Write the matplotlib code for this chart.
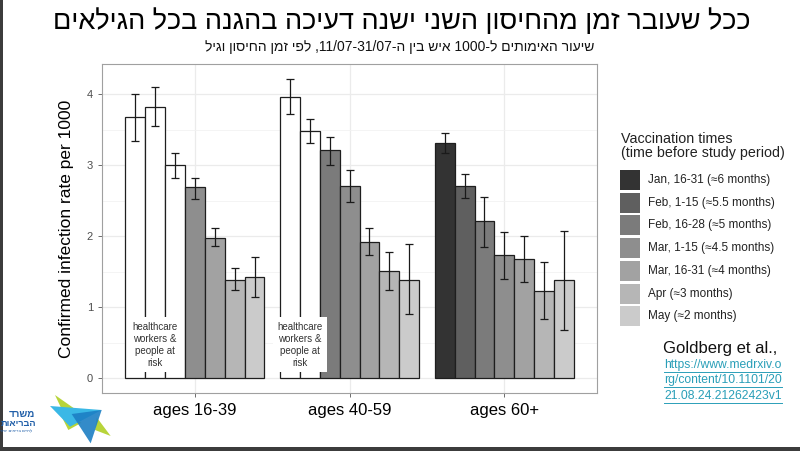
import re
import numpy as np
import matplotlib
matplotlib.use('Agg')
import matplotlib.pyplot as plt
from matplotlib.patches import Rectangle, Polygon

plt.rcParams['font.family'] = ['Liberation Sans', 'DejaVu Sans']

# data
groups = ['ages 16-39', 'ages 40-59', 'ages 60+']
periods = ['Jan, 16-31 (≈6 months)', 'Feb, 1-15 (≈5.5 months)', 'Feb, 16-28 (≈5 months)',
           'Mar, 1-15 (≈4.5 months)', 'Mar, 16-31 (≈4 months)', 'Apr (≈3 months)',
           'May (≈2 months)']
period_colors = ['#333333', '#5f5f5f', '#7b7b7b', '#8e8e8e', '#a2a2a2', '#b6b6b6', '#cbcbcb']

rate_16_39 = [3.68, 3.83, 3.00, 2.69, 1.98, 1.39, 1.43]
lo_16_39 = [3.35, 3.56, 2.82, 2.53, 1.86, 1.24, 1.14]
hi_16_39 = [4.01, 4.10, 3.18, 2.82, 2.11, 1.55, 1.71]

rate_40_59 = [3.97, 3.48, 3.21, 2.71, 1.92, 1.51, 1.39]
lo_40_59 = [3.72, 3.31, 3.01, 2.49, 1.73, 1.24, 0.90]
hi_40_59 = [4.22, 3.66, 3.40, 2.94, 2.12, 1.78, 1.89]

rate_60 = [3.32, 2.71, 2.21, 1.73, 1.68, 1.23, 1.38]
lo_60 = [3.18, 2.54, 1.85, 1.40, 1.36, 0.83, 0.68]
hi_60 = [3.46, 2.88, 2.56, 2.06, 2.00, 1.64, 2.07]

# how many of the first bars in each group are healthcare workers / at risk (white)
n_hcw = [3, 2, 0]

rates = [rate_16_39, rate_40_59, rate_60]
lows = [lo_16_39, lo_40_59, lo_60]
highs = [hi_16_39, hi_40_59, hi_60]

title = 'ככל שעובר זמן מהחיסון השני ישנה דעיכה בהגנה בכל הגילאים'
subtitle = 'שיעור האימותים ל-1000 איש בין ה-11/07-31/07, לפי זמן החיסון וגיל'
hcw_label = 'healthcare\nworkers &\npeople at\nrisk'


def rtl(s):
    # crude visual ordering for hebrew: flip, then put latin/number runs back
    r = s[::-1]
    return re.sub(r'[0-9A-Za-z][0-9A-Za-z/\-.]*[0-9A-Za-z]|[0-9]', lambda m: m.group(0)[::-1], r)


fig = plt.figure(figsize=(8, 4.51), dpi=100)
ax = fig.add_axes([0.1275, 0.1286, 0.619, 0.7295])

w = 0.9 / 7
for g in range(3):
    xs = g + 1 + (np.arange(7) - 3) * w
    cols = ['white' if i < n_hcw[g] else period_colors[i] for i in range(7)]
    r = np.array(rates[g])
    ax.bar(xs, r, width=w, color=cols, edgecolor='#1e1e1e', linewidth=0.9, zorder=2)
    ax.errorbar(xs, r, yerr=[r - np.array(lows[g]), np.array(highs[g]) - r], fmt='none',
                ecolor='#1a1a1a', elinewidth=0.9, capsize=3, capthick=0.9, zorder=3)
    if n_hcw[g] > 0:
        xc = xs[:n_hcw[g]].mean()
        ax.text(xc, 0.47, hcw_label, ha='center', va='center', fontsize=7, color='#333333',
                linespacing=1.25, zorder=4,
                bbox=dict(boxstyle='square,pad=0.45', fc='white', ec='none'))

ax.set_xlim(0.4, 3.6)
ax.set_ylim(-0.211, 4.43)
ax.set_xticks([1, 2, 3])
ax.set_xticklabels(groups, fontsize=12)
ax.set_yticks([0, 1, 2, 3, 4])
ax.set_yticks(np.arange(0.5, 4.5, 1.0), minor=True)
ax.tick_params(axis='y', labelsize=8, labelcolor='#4d4d4d', length=3, width=0.6, color='#555555')
ax.tick_params(axis='x', length=3, width=0.6, color='#555555', pad=4)
ax.tick_params(axis='y', which='minor', length=0)
ax.grid(which='major', color='#ebebeb', linewidth=0.9, zorder=0)
ax.grid(which='minor', axis='y', color='#f2f2f2', linewidth=0.6, zorder=0)
ax.set_axisbelow(True)
for s in ax.spines.values():
    s.set_color('#a0a0a0')
    s.set_linewidth(0.8)
ax.set_ylabel('Confirmed infection rate per 1000', fontsize=12.5, labelpad=9)

# overlay in pixel coordinates for titles, legend, source and logo
ov = fig.add_axes([0, 0, 1, 1])
ov.set_xlim(0, 800)
ov.set_ylim(451, 0)
ov.axis('off')

ov.text(402, 22, rtl(title), ha='center', va='center', fontsize=19.5, color='black')
ov.text(400, 47, rtl(subtitle), ha='center', va='center', fontsize=10, color='#111111')

ov.text(621, 146, 'Vaccination times\n(time before study period)', ha='left', va='center',
        fontsize=10.3, color='#222222', linespacing=1.0)
for i, lab in enumerate(periods):
    y0 = 170 + i * 22.7
    ov.add_patch(Rectangle((620, y0), 20, 20, fc=period_colors[i], ec='none'))
    ov.text(648, y0 + 10, lab, ha='left', va='center', fontsize=8.5, color='#222222')

ov.text(663, 348, 'Goldberg et al.,', ha='left', va='center', fontsize=12, color='#111111')
link_lines = ['https://www.medrxiv.o', 'rg/content/10.1101/20', '21.08.24.21262423v1']
link_texts = []
for i, ln in enumerate(link_lines):
    link_texts.append(ov.text(664, 365 + i * 15.5, ln, ha='left', va='center',
                              fontsize=8.7, color='#2a9fb8'))

# border strips of the screenshot
ov.add_patch(Rectangle((0, 0), 3, 451, fc='#3c3c3c', ec='none'))
ov.add_patch(Rectangle((0, 447), 800, 4, fc='#3c3c3c', ec='none'))

# ministry of health logo (rough)
def zp(pts):
    return [(px / 3.0, 380 + py / 3.0) for px, py in pts]

ov.add_patch(Polygon(zp([(165, 45), (232, 92), (190, 98)]), fc='#b8d43a', ec='none'))
ov.add_patch(Polygon(zp([(185, 110), (245, 128), (205, 150)]), fc='#b8d43a', ec='none'))
ov.add_patch(Polygon(zp([(290, 112), (332, 168), (285, 150)]), fc='#b8d43a', ec='none'))
ov.add_patch(Polygon(zp([(150, 78), (305, 90), (210, 140)]), fc='#3ab8e6', ec='none'))
ov.add_patch(Polygon(zp([(215, 102), (305, 90), (272, 190)]), fc='#1d7fc4', ec='none', alpha=0.9))
ov.text(35, 414, rtl('משרד'), ha='right', va='center', fontsize=7, fontweight='bold',
        color='#1f5ea8')
ov.text(36, 423, rtl('הבריאות'), ha='right', va='center', fontsize=6.6, fontweight='bold',
        color='#1f5ea8')
ov.text(32, 432, rtl('לחיים בריאים יותר'), ha='right', va='center', fontsize=3,
        color='#1f5ea8')

# underline the link
fig.canvas.draw()
for t in link_texts:
    bb = t.get_window_extent()
    yy = 451 - bb.y0 + 0.5
    ov.plot([bb.x0, bb.x1], [yy, yy], color='#2a9fb8', lw=0.7)

fig.savefig('out.png', dpi=100)
